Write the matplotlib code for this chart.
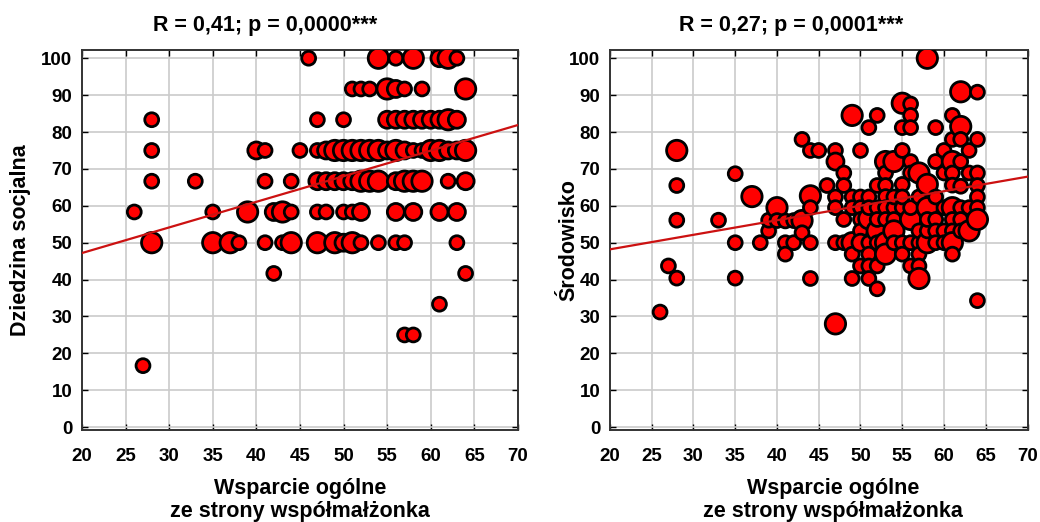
import matplotlib
matplotlib.use('Agg')
import matplotlib.pyplot as plt
import numpy as np

plt.rcParams['font.family'] = ['Liberation Sans', 'DejaVu Sans']
plt.rcParams['font.weight'] = 'bold'

# lewy wykres: Dziedzina socjalna (x, y, wielkosc punktu 1-3)
xLeft = [46, 54, 56, 58, 61, 62, 63,
         51, 52, 53, 55, 56, 57, 59, 64,
         28, 47, 50, 55, 56, 57, 58, 59, 60, 61, 62, 63,
         28, 40, 41, 45, 47, 48, 49, 50, 51, 52, 53, 54, 55, 56, 57, 58, 59, 60, 61, 62, 63, 64,
         28, 33, 41, 44, 47, 48, 49, 50, 51, 52, 53, 54, 56, 57, 58, 59, 62, 64,
         26, 35, 39, 42, 43, 44, 47, 48, 50, 51, 52, 56, 58, 61, 63,
         28, 35, 37, 38, 41, 43, 44, 47, 49, 50, 51, 52, 54, 56, 57, 63,
         42, 64, 61, 57, 58, 27]
yLeft = [100] * 7 + [91.67] * 8 + [83.33] * 12 + [75] * 22 + [66.67] * 18 + \
        [58.33] * 15 + [50] * 16 + [41.67, 41.67, 33.33, 25, 25, 16.67]
sLeft = [1, 3, 1, 3, 2, 3, 1,
         1, 1, 1, 3, 2, 1, 1, 3,
         1, 1, 1, 2, 2, 2, 2, 2, 2, 2, 3, 2,
         1, 2, 1, 1, 1, 2, 3, 3, 3, 3, 3, 3, 2, 3, 2, 1, 1, 3, 3, 2, 2, 3,
         1, 1, 1, 1, 2, 2, 2, 2, 2, 3, 3, 3, 2, 3, 3, 3, 1, 2,
         1, 1, 3, 2, 3, 1, 1, 1, 1, 1, 2, 2, 2, 2, 2,
         3, 3, 3, 1, 1, 1, 3, 3, 3, 2, 3, 1, 1, 1, 1, 1,
         1, 1, 1, 1, 1, 1]

# prawy wykres: Srodowisko
xRight = [26, 27, 28, 28, 28, 28, 33, 35, 35, 35, 37, 38, 39, 39, 40, 40,
          41, 41, 41, 42, 42, 43, 43, 43, 44, 44, 44, 44, 44, 45, 46,
          47, 47, 47, 47, 47, 47, 48, 48, 48, 48,
          49, 49, 49, 49, 49, 49, 50, 50, 50, 50, 50, 50, 50,
          51, 51, 51, 51, 51, 51, 51, 51, 52, 52, 52, 52, 52, 52, 52, 52,
          53, 53, 53, 53, 53, 53, 53, 53, 54, 54, 54, 54, 54, 54,
          55, 55, 55, 55, 55, 55, 55, 55, 56, 56, 56, 56, 56, 56, 56, 56, 56,
          57, 57, 57, 57, 57, 57, 57, 58, 58, 58, 58, 58, 58,
          59, 59, 59, 59, 59, 59, 60, 60, 60, 60, 60,
          61, 61, 61, 61, 61, 61, 61, 61, 61, 61, 62, 62, 62, 62, 62, 62, 62, 62,
          63, 63, 63, 63, 64, 64, 64, 64, 64, 64, 64, 64]
yRight = [31.2, 43.7, 75, 65.5, 56.1, 40.4, 56.1, 68.7, 50, 40.4, 62.5, 50, 53.2, 56.1, 59.5, 56,
          50, 46.9, 55.9, 50, 56, 78, 56, 52.7, 75, 62.7, 59.5, 50, 40.3, 75, 65.5,
          75, 72, 62.4, 59.5, 50, 28, 68.9, 65.5, 56.3, 50,
          84.5, 62.4, 59.5, 50, 46.9, 40.3, 75, 62.4, 59.5, 56.3, 53.2, 50, 43.7,
          81.2, 62.4, 56.5, 50, 46.9, 43.7, 40.3, 59.5, 84.5, 65.5, 59.5, 53.2, 50, 43.7, 37.5, 56.3,
          72, 68.9, 65.5, 62.5, 59.5, 50, 46.9, 56.3, 72, 59.5, 56.3, 53.2, 50, 62.4,
          87.8, 81.2, 75, 65.8, 59.5, 62.4, 50, 46.9, 87.6, 84.5, 81.2, 72, 56.3, 50, 43.7, 59.5, 68.9,
          68.9, 62.4, 50, 46.9, 43.7, 40.3, 53.2, 100, 65.8, 59.5, 50, 53.2, 56.3,
          81.2, 72, 56.3, 53.2, 50, 62.4, 75, 59.5, 53.2, 50, 68.9,
          84.5, 78, 72, 68.9, 65.6, 59.5, 56.3, 53.2, 50, 46.9, 90.9, 81.5, 78, 72, 65.3, 59.5, 56.3, 53.2,
          75, 68.9, 53.2, 59.5, 90.8, 78, 68.9, 65.5, 62.4, 59.5, 56.3, 34.3]
sRight = [1, 1, 3, 1, 1, 1, 1, 1, 1, 1, 3, 1, 1, 1, 3, 1,
          1, 1, 1, 1, 1, 1, 3, 1, 1, 3, 1, 1, 1, 1, 1,
          1, 2, 1, 1, 1, 3, 1, 1, 1, 1,
          3, 1, 1, 3, 1, 1, 1, 1, 1, 1, 1, 2, 1,
          1, 1, 3, 1, 1, 1, 1, 1, 1, 1, 1, 3, 1, 1, 1, 1,
          3, 1, 1, 1, 1, 3, 3, 1, 3, 1, 1, 3, 1, 1,
          3, 1, 1, 1, 1, 1, 1, 1, 1, 1, 1, 1, 3, 1, 1, 1, 1,
          3, 1, 1, 1, 1, 3, 1, 3, 3, 3, 3, 1, 1,
          1, 1, 1, 1, 1, 1, 1, 1, 1, 1, 1,
          1, 1, 3, 1, 1, 3, 1, 1, 3, 1, 3, 3, 1, 1, 1, 1, 1, 1,
          1, 1, 3, 1, 1, 1, 1, 1, 1, 1, 3, 1]

# linie regresji (wyraz wolny przy x=20, nachylenie)
fitLeft = (47.2, 0.694)
fitRight = (48.2, 0.394)

titles = ['R = 0,41; p = 0,0000***', 'R = 0,27; p = 0,0001***']
yLabels = ['Dziedzina socjalna', 'Środowisko']
xLabel = 'Wsparcie ogólne\nze strony współmałżonka'
sizeMap = {1: 100, 2: 150, 3: 215}

fig = plt.figure(figsize=(10.4, 5.22), dpi=100)
ax1 = fig.add_axes([0.0788, 0.176, 0.4192, 0.728])
ax2 = fig.add_axes([0.5865, 0.176, 0.4015, 0.728])

titleX = [0.42, 0.435]
xLabelX = [0.5, 0.535]
yLabelX = [-0.117, -0.074]

panels = [(ax1, xLeft, yLeft, sLeft, fitLeft), (ax2, xRight, yRight, sRight, fitRight)]
for i, (ax, xs, ys, ss, fit) in enumerate(panels):
    ax.scatter(xs, ys, s=[sizeMap[v] for v in ss], c='#ff0000',
               edgecolors='black', linewidths=2.0, zorder=3)
    xl = np.array([20, 70])
    ax.plot(xl, fit[0] + fit[1] * (xl - 20), color='#cc1111', lw=1.6, zorder=4)
    ax.set_xlim(20, 70)
    ax.set_ylim(-0.8, 102.2)
    ax.set_xticks(range(20, 71, 5))
    ax.set_yticks(range(0, 101, 10))
    ax.grid(True, color='#cbcbcb', lw=1.2, zorder=0)
    ax.set_axisbelow(True)
    ax.tick_params(direction='in', length=4, width=1, top=True, right=True,
                   labelsize=13.5)
    ax.tick_params(axis='x', pad=13)
    ax.tick_params(axis='y', pad=7)
    for sp in ax.spines.values():
        sp.set_linewidth(1.4)
        sp.set_color('#333333')
    ax.set_title(titles[i], fontsize=15.5, fontweight='bold', pad=14, x=titleX[i])
    ax.set_xlabel(xLabel, fontsize=15.5, fontweight='bold', linespacing=1.1)
    ax.xaxis.set_label_coords(xLabelX[i], -0.127, transform=ax.transAxes)
    ax.xaxis.label.set_va('top')
    ax.set_ylabel(yLabels[i], fontsize=15.5, fontweight='bold')
    ax.yaxis.set_label_coords(yLabelX[i], 0.5, transform=ax.transAxes)

plt.savefig('out.png', dpi=100)
